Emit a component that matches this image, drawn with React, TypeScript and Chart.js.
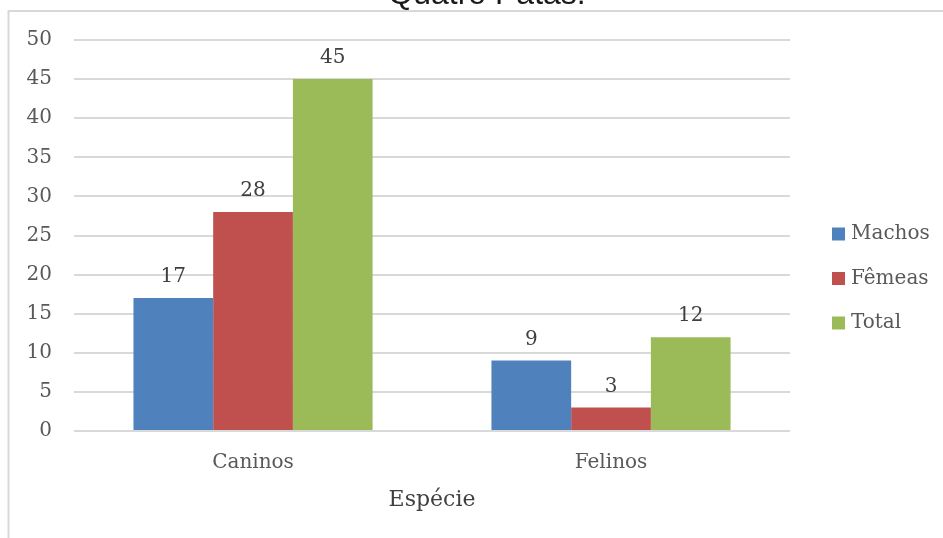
import React, { useEffect, useRef } from "react";
import { Chart, registerables } from "chart.js";

Chart.register(...registerables);

const categories = ["Caninos", "Felinos"];
const seriesNames = ["Machos", "Fêmeas", "Total"];
const machos = [17, 9];
const femeas = [28, 3];
const total = [45, 12];
const seriesColors = ["#4f81bd", "#c0504d", "#9bbb59"];
const yTicks = { min: 0, max: 50, step: 5 };
const chartTitle = "Quatro Patas.";
const xAxisTitle = "Espécie";

const W = 943;
const H = 538;

const serif = "'DejaVu Serif', serif";

// White background, frame lines and the (partly clipped) title
const framePlugin = {
  id: "frame",
  beforeDraw(chart: Chart) {
    const { ctx, width, height } = chart;
    ctx.save();
    ctx.fillStyle = "#ffffff";
    ctx.fillRect(0, 0, width, height);
    ctx.strokeStyle = "#d9d9d9";
    ctx.lineWidth = 2;
    ctx.beginPath();
    ctx.moveTo(8.5, height + 5);
    ctx.lineTo(8.5, 11);
    ctx.lineTo(width + 5, 11);
    ctx.stroke();

    ctx.font = "32px 'Liberation Sans', Arial, sans-serif";
    ctx.fillStyle = "#1a1a1a";
    ctx.textAlign = "center";
    ctx.textBaseline = "alphabetic";
    ctx.fillText(chartTitle, width / 2 + 15.5, 4);
    ctx.restore();
  },
};

// Value labels above each bar
const valueLabels = {
  id: "valueLabels",
  afterDatasetsDraw(chart: Chart) {
    const { ctx } = chart;
    ctx.save();
    ctx.font = `20px ${serif}`;
    ctx.fillStyle = "#404040";
    ctx.textAlign = "center";
    ctx.textBaseline = "alphabetic";
    chart.data.datasets.forEach((ds, di) => {
      const meta = chart.getDatasetMeta(di);
      meta.data.forEach((bar: any, i) => {
        ctx.fillText(String(ds.data[i]), bar.x, bar.y - 16);
      });
    });
    ctx.restore();
  },
};

// Legend stacked on the right of the plot
const sideLegend = {
  id: "sideLegend",
  afterDraw(chart: Chart) {
    const { ctx, chartArea } = chart;
    const x0 = chartArea.right + 42;
    const rowGap = 44.5;
    const y0 = chartArea.top + 194;
    ctx.save();
    ctx.font = `20px ${serif}`;
    ctx.textBaseline = "middle";
    ctx.textAlign = "left";
    chart.data.datasets.forEach((ds, i) => {
      const y = y0 + i * rowGap;
      ctx.fillStyle = ds.backgroundColor as string;
      ctx.fillRect(x0, y - 6.5, 13, 13);
      ctx.fillStyle = "#595959";
      ctx.fillText(String(ds.label), x0 + 19, y);
    });
    ctx.restore();
  },
};

export default function App() {
  const canvasRef = useRef<HTMLCanvasElement | null>(null);

  useEffect(() => {
    const canvas = canvasRef.current;
    if (!canvas) return;
    const values = [machos, femeas, total];
    const chart = new Chart(canvas, {
      type: "bar",
      data: {
        labels: categories,
        datasets: seriesNames.map((name, i) => ({
          label: name,
          data: values[i],
          backgroundColor: seriesColors[i],
          borderWidth: 0,
          categoryPercentage: 0.668,
          barPercentage: 1,
        })),
      },
      options: {
        responsive: false,
        animation: false,
        devicePixelRatio: 1,
        layout: { padding: { left: 4.6, right: 153, top: 40, bottom: 24.8 } },
        plugins: {
          legend: { display: false },
          tooltip: { enabled: false },
          title: { display: false },
        },
        scales: {
          x: {
            grid: { display: false, drawTicks: false },
            border: { display: false },
            ticks: { color: "#595959", font: { family: serif, size: 20 }, padding: 20 },
            title: {
              display: true,
              text: xAxisTitle,
              color: "#404040",
              font: { family: serif, size: 22 },
              padding: { top: -8.2, bottom: 0 },
            },
          },
          y: {
            min: yTicks.min,
            max: yTicks.max,
            grid: { color: "#d9d9d9", lineWidth: 2, drawTicks: false },
            border: { display: false },
            ticks: {
              stepSize: yTicks.step,
              color: "#595959",
              font: { family: serif, size: 20 },
              padding: 22,
            },
          },
        },
      },
      plugins: [framePlugin, valueLabels, sideLegend],
    });
    return () => chart.destroy();
  }, []);

  return (
    <div
      style={{
        position: "fixed",
        left: 0,
        top: 0,
        width: W,
        height: H,
        overflow: "hidden",
        background: "#ffffff",
      }}
    >
      <canvas
        ref={canvasRef}
        width={W}
        height={H}
        style={{ display: "block", width: W, height: H }}
      />
    </div>
  );
}
